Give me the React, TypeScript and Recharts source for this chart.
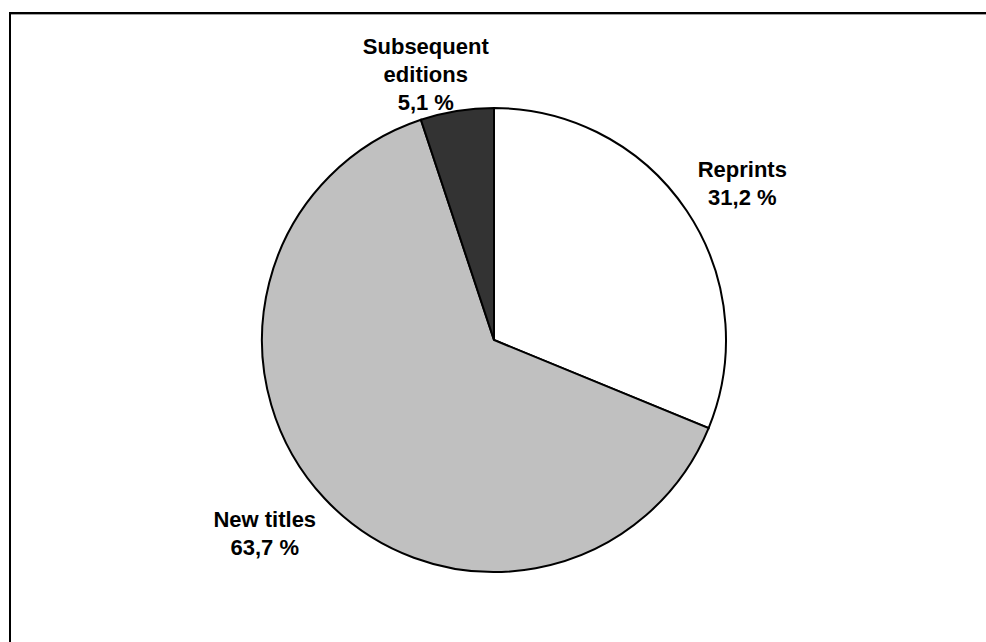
import { PieChart, Pie, Cell } from 'recharts';

const CATEGORIES = ['Reprints', 'New titles', 'Subsequent editions'];
const SHARES = [31.2, 63.7, 5.1];
const LABEL_LINES = [['Reprints'], ['New titles'], ['Subsequent', 'editions']];

const COLORS = ['#ffffff', '#c0c0c0', '#333333'];
// nudges for the label blocks, relative to the point just outside the slice
const LABEL_NUDGE = [
  { dx: 39, dy: -17 },
  { dx: -45, dy: 21 },
  { dx: -28, dy: -17 },
];

const RADIAN = Math.PI / 180;
const FONT = '"Liberation Sans", Arial, sans-serif';
const LINE_H = 28;

const data = CATEGORIES.map((name, i) => ({ name, value: SHARES[i] }));

function formatPct(v: number) {
  return v.toFixed(1).replace('.', ',') + ' %';
}

function renderLabel({ cx, cy, midAngle, outerRadius, index, value }: any) {
  const r = outerRadius + 20;
  const nudge = LABEL_NUDGE[index];
  const x = cx + r * Math.cos(-midAngle * RADIAN) + nudge.dx;
  const y = cy + r * Math.sin(-midAngle * RADIAN) + nudge.dy;
  const lines = [...LABEL_LINES[index], formatPct(value)];
  const firstBaseline = y - ((lines.length - 1) * LINE_H) / 2 + 8;
  return (
    <text
      key={`lbl-${index}`}
      x={x}
      y={firstBaseline}
      textAnchor="middle"
      fill="#000"
      fontFamily={FONT}
      fontWeight="bold"
      fontSize={22}
    >
      {lines.map((t, i) => (
        <tspan key={i} x={x} dy={i === 0 ? 0 : LINE_H}>
          {t}
        </tspan>
      ))}
    </text>
  );
}

export default function App() {
  return (
    <div style={{ position: 'absolute', left: 0, top: 0, width: 986, height: 642, background: '#fff', overflow: 'hidden' }}>
      <div style={{ position: 'absolute', left: 9, top: 12, width: 977, height: 2, background: '#000' }} />
      <div style={{ position: 'absolute', left: 11, top: 14, width: 975, height: 1, background: '#a0a0a0' }} />
      <div style={{ position: 'absolute', left: 9, top: 12, width: 2, height: 630, background: '#000' }} />
      <div style={{ position: 'absolute', left: 0, top: 0 }}>
        <PieChart width={986} height={642} margin={{ top: 0, right: 0, bottom: 0, left: 0 }}>
          <Pie
            data={data}
            dataKey="value"
            nameKey="name"
            cx={494}
            cy={340}
            outerRadius={232}
            startAngle={90}
            endAngle={-270}
            stroke="#000"
            strokeWidth={2}
            label={renderLabel}
            labelLine={false}
            isAnimationActive={false}
          >
            {data.map((d, i) => (
              <Cell key={d.name} fill={COLORS[i]} />
            ))}
          </Pie>
        </PieChart>
      </div>
    </div>
  );
}
